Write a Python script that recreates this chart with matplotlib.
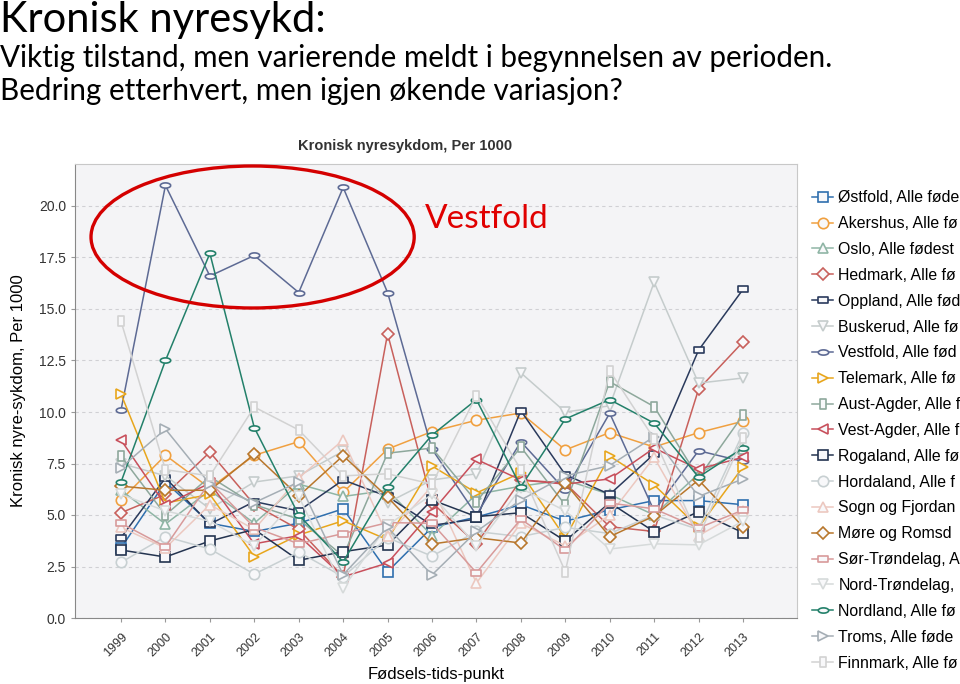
import numpy as np
import matplotlib
matplotlib.use("Agg")
import matplotlib.pyplot as plt
from matplotlib.path import Path
from matplotlib.patches import Ellipse

years = list(range(1999, 2014))

ostfold = [3.4, 6.6, 4.6, 4.2, 4.6, 5.3, 2.25, 4.4, 4.9, 5.5, 4.7, 5.25, 5.7, 5.7, 5.5]
akershus = [5.73, 7.9, 6.3, 7.9, 8.56, 6.1, 8.2, 9.05, 9.6, 9.95, 8.16, 9.0, 8.3, 9.0, 9.55]
oslo = [6.2, 4.56, 6.2, 4.6, 6.5, 5.9, 6.2, 4.0, 6.0, 6.4, 6.7, 6.0, 5.0, 7.0, 8.2]
hedmark = [5.11, 6.0, 8.05, 5.5, 4.3, 2.0, 13.8, 5.6, 3.6, 6.7, 6.55, 4.43, 4.2, 11.1, 13.4]
oppland = [3.9, 6.8, 4.56, 5.65, 5.2, 6.7, 5.9, 4.5, 4.8, 10.06, 6.96, 6.0, 7.96, 13.0, 15.95]
buskerud = [7.5, 6.9, 5.3, 6.6, 6.9, 8.1, 5.6, 6.7, 7.0, 11.9, 10.0, 10.3, 16.3, 11.4, 11.65]
vestfold = [10.1, 21.0, 16.6, 17.6, 15.8, 20.9, 15.8, 8.2, 5.0, 8.56, 6.2, 9.94, 5.2, 8.12, 7.6]
telemark = [10.87, 5.58, 6.0, 2.98, 4.03, 4.72, 3.8, 7.38, 6.07, 7.05, 3.9, 7.86, 6.46, 4.4, 7.33]
aust_agder = [7.86, 5.0, 6.86, 5.5, 4.8, 3.0, 8.0, 8.25, 5.65, 8.3, 5.48, 11.47, 10.26, 6.8, 9.85]
vest_agder = [8.64, 5.48, 6.55, 3.6, 4.0, 2.0, 2.67, 5.16, 7.7, 6.7, 6.5, 6.75, 8.25, 7.23, 7.8]
rogaland = [3.3, 2.96, 3.74, 4.3, 2.8, 3.22, 3.54, 5.73, 4.92, 5.11, 3.74, 5.6, 4.19, 5.16, 4.14]
hordaland = [2.7, 3.95, 3.35, 2.13, 3.2, 2.0, 3.9, 3.0, 4.2, 3.95, 4.4, 4.1, 5.0, 4.3, 8.98]
sogn = [4.4, 3.4, 5.5, 4.3, 6.8, 8.64, 4.0, 6.4, 1.7, 4.6, 3.5, 5.0, 7.8, 4.0, 5.2]
more = [6.4, 6.2, 6.2, 7.95, 5.92, 7.88, 5.87, 3.59, 3.9, 3.64, 6.55, 3.95, 4.95, 6.7, 4.43]
sor_trondelag = [4.6, 3.46, 6.6, 4.4, 3.6, 4.1, 4.63, 4.6, 2.2, 4.8, 3.3, 5.58, 5.3, 4.37, 5.24]
nord_trondelag = [6.0, 5.2, 4.7, 3.5, 5.9, 1.45, 4.5, 6.0, 3.5, 6.3, 5.2, 3.35, 3.6, 3.55, 4.7]
nordland = [6.6, 12.5, 17.7, 9.24, 5.0, 2.73, 6.35, 8.88, 10.6, 6.37, 9.66, 10.6, 9.46, 6.84, 8.25]
troms = [7.3, 9.17, 6.5, 5.6, 6.6, 2.1, 4.4, 2.09, 4.2, 5.73, 6.9, 7.4, 8.8, 5.9, 6.75]
finnmark = [14.4, 7.2, 6.9, 10.24, 9.13, 6.9, 7.0, 6.5, 10.8, 7.2, 2.25, 12.0, 8.7, 3.95, 8.74]

# legend texts as visible in the reference (cut by the slide edge)
labels = ["Østfold, Alle føde", "Akershus, Alle fø", "Oslo, Alle fødest",
          "Hedmark, Alle fø", "Oppland, Alle fød", "Buskerud, Alle fø",
          "Vestfold, Alle fød", "Telemark, Alle fø", "Aust-Agder, Alle f",
          "Vest-Agder, Alle f", "Rogaland, Alle fø", "Hordaland, Alle f",
          "Sogn og Fjordan", "Møre og Romsd",
          "Sør-Trøndelag, A", "Nord-Trøndelag,",
          "Nordland, Alle fø", "Troms, Alle føde", "Finnmark, Alle fø"]
series = [ostfold, akershus, oslo, hedmark, oppland, buskerud, vestfold, telemark, aust_agder,
          vest_agder, rogaland, hordaland, sogn, more, sor_trondelag, nord_trondelag,
          nordland, troms, finnmark]

hrect = Path([(-1, -0.5), (1, -0.5), (1, 0.5), (-1, 0.5), (-1, -0.5)],
             [Path.MOVETO, Path.LINETO, Path.LINETO, Path.LINETO, Path.CLOSEPOLY])
vrect = Path([(-0.5, -1), (0.5, -1), (0.5, 1), (-0.5, 1), (-0.5, -1)],
             [Path.MOVETO, Path.LINETO, Path.LINETO, Path.LINETO, Path.CLOSEPOLY])
t = np.linspace(0, 2 * np.pi, 41)
hell = Path(np.column_stack([np.cos(t), 0.5 * np.sin(t)]))

styles = [("#2f6fae", "s", 7), ("#f0a040", "o", 7.5), ("#8fb5a5", "^", 7.5),
          ("#c8605c", "D", 6), ("#2a3a5c", hrect, 7.5), ("#c5cccc", "v", 7.5),
          ("#5d6a94", hell, 7.5), ("#e8a61c", ">", 7.5), ("#8ea89c", vrect, 7.5),
          ("#c8505c", "<", 7.5), ("#243450", "s", 7), ("#c8d0d2", "o", 7.5),
          ("#ecc8c0", "^", 7.5), ("#b8772c", "D", 6), ("#d89a9a", hrect, 7.5),
          ("#d6dada", "v", 7.5), ("#23806a", hell, 7.5), ("#a5aeb5", ">", 7.5),
          ("#d2d2d2", vrect, 7.5)]

fig = plt.figure(figsize=(9.6, 6.84), dpi=100)
W, H = 960, 684
ax = fig.add_axes([75 / W, 1 - 618 / H, (797 - 75) / W, (618 - 164) / H])
ax.set_facecolor("#f4f4f6")

handles = []
for vals, lab, (c, m, ms) in zip(series, labels, styles):
    h, = ax.plot(years, vals, color=c, lw=1.1, marker=m, ms=ms, mfc="#f8f8fa",
                 mec=c, mew=1.2, label=lab, zorder=3)
    handles.append(h)

ax.set_xlim(1999 - 46 / 44.4, 2013 + 54 / 44.4)
ax.set_ylim(0, 454 / 20.6)
ax.set_yticks(np.arange(0, 20.1, 2.5))
ax.set_yticklabels([f"{v:.1f}" for v in np.arange(0, 20.1, 2.5)], fontsize=10,
                   color="#333333", family="Liberation Sans")
ax.set_xticks(years)
ax.set_xticklabels([str(y) for y in years], rotation=45, fontsize=9,
                   color="#333333", family="Liberation Sans", ha="right",
                   rotation_mode="anchor")
ax.grid(axis="y", color="#d0d0d4", ls=(0, (3, 3)), lw=0.8)
ax.set_axisbelow(True)
ax.tick_params(axis="both", length=3, color="#999999")
ax.tick_params(axis="x", pad=6)
for s in ["top", "right"]:
    ax.spines[s].set_color("#c8c8c8")
ax.spines["left"].set_color("#888888")
ax.spines["bottom"].set_color("#888888")

ax.set_xlabel("Fødsels-tids-punkt", fontsize=12, family="Liberation Sans", labelpad=6)
ax.set_ylabel("Kronisk nyre-sykdom, Per 1000", fontsize=12, family="Liberation Sans",
              labelpad=9)

fig.text(405 / W, 1 - 146 / H, "Kronisk nyresykdom, Per 1000", fontsize=10.5,
         fontweight="bold", family="Liberation Sans", ha="center", va="center",
         color="#333333")

leg = fig.legend(handles=handles, loc="upper left", bbox_to_anchor=(806 / W, 1 - 184 / H),
                 frameon=False, handlelength=1.3, handletextpad=0.35,
                 labelspacing=0.685, borderaxespad=0,
                 prop={"family": "Liberation Sans", "size": 11.4})

ell = Ellipse((1999 + (252.5 - 121) / 44.4, (618 - 237) / 20.6), 323 / 44.4, 142 / 20.6,
              fill=False, ec="#d40000", lw=2.4, clip_on=False, zorder=5)
ax.add_patch(ell)
fig.text(425 / W, 1 - 219 / H, "Vestfold", fontsize=24, color="#e00000",
         family="Lato", va="center", ha="left")

fig.text(0, 1 - 32 / H, "Kronisk nyresykd:", fontsize=30, family="Lato", va="baseline")
fig.text(0, 1 - 67 / H, "Viktig tilstand, men varierende meldt i begynnelsen av perioden.",
         fontsize=21.3, family="Lato", va="baseline")
fig.text(0, 1 - 100 / H, "Bedring etterhvert, men igjen økende variasjon?",
         fontsize=21.3, family="Lato", va="baseline")

fig.savefig("out.png", dpi=100)
